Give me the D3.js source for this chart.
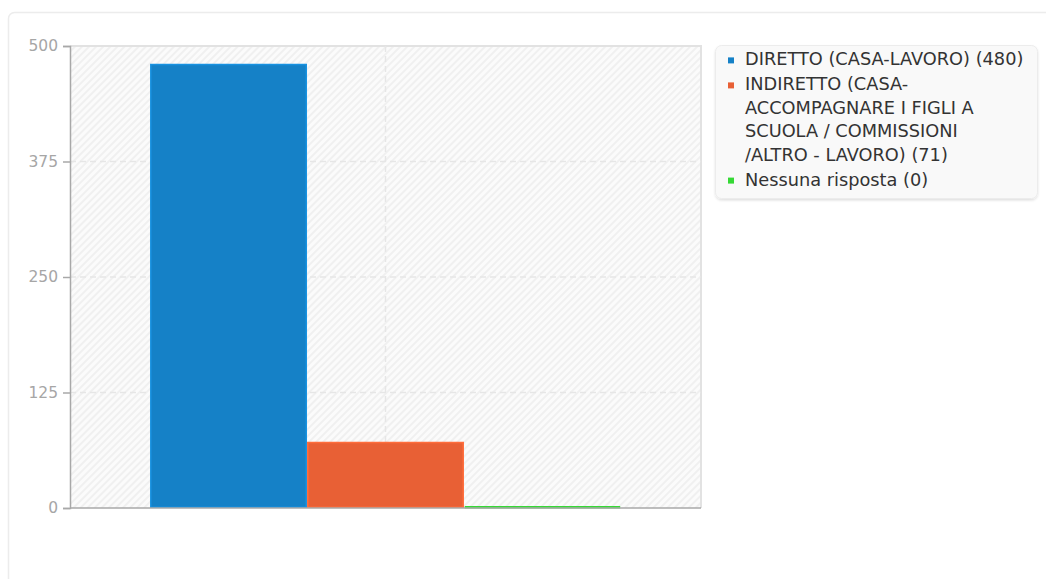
<!DOCTYPE html>
<html>
<head>
<meta charset="utf-8">
<script src="https://cdn.jsdelivr.net/npm/d3@7"></script>
<style>
  html, body { margin: 0; padding: 0; background: #ffffff; }
  svg { display: block; font-family: "DejaVu Sans", sans-serif; }
</style>
</head>
<body>
<svg id="chart" width="1046" height="579"></svg>
<script>
// Answers to the commute question and how many respondents gave each
const seriesNames = [
  "DIRETTO (CASA-LAVORO)",
  "INDIRETTO (CASA-ACCOMPAGNARE I FIGLI A SCUOLA / COMMISSIONI /ALTRO - LAVORO)",
  "Nessuna risposta"
];
const seriesValues = [480, 71, 0];
const seriesColors = ["#1581c7", "#e86035", "#35d935"];
const categories = [""];
const yTicks = [0, 125, 250, 375, 500];

const svg = d3.select("#chart");
const plot = { left: 70, right: 701, top: 46, bottom: 508 };

// outer card
svg.append("rect")
  .attr("x", 8.5).attr("y", 12.5)
  .attr("width", 1100).attr("height", 700)
  .attr("rx", 6)
  .attr("fill", "#ffffff")
  .attr("stroke", "#ececec")
  .attr("stroke-width", 1.5);

const defs = svg.append("defs");
const hatch = defs.append("pattern")
  .attr("id", "hatch")
  .attr("patternUnits", "userSpaceOnUse")
  .attr("width", 5).attr("height", 5)
  .attr("patternTransform", "rotate(45)");
hatch.append("rect").attr("width", 5).attr("height", 5).attr("fill", "#fbfbfb");
hatch.append("line")
  .attr("x1", 1).attr("y1", 0).attr("x2", 1).attr("y2", 5)
  .attr("stroke", "#f0f0f0").attr("stroke-width", 2);

const shadow = defs.append("filter").attr("id", "shadow")
  .attr("x", "-5%").attr("y", "-5%").attr("width", "110%").attr("height", "115%");
shadow.append("feDropShadow")
  .attr("dx", 0).attr("dy", 1.5).attr("stdDeviation", 1.2)
  .attr("flood-color", "#000").attr("flood-opacity", 0.12);

// scales
const y = d3.scaleLinear().domain([0, 500]).range([plot.bottom, plot.top]);
const x0 = d3.scaleBand().domain(categories)
  .range([plot.left, plot.right])
  .paddingInner(0).paddingOuter(0.17);
const x1 = d3.scaleBand().domain(seriesNames).range([0, x0.bandwidth()]).padding(0);

// plot background
svg.append("rect")
  .attr("x", plot.left).attr("y", plot.top)
  .attr("width", plot.right - plot.left).attr("height", plot.bottom - plot.top)
  .attr("fill", "url(#hatch)");

// frame on top and right
svg.append("path")
  .attr("d", `M${plot.left},${plot.top}H${plot.right}V${plot.bottom}`)
  .attr("fill", "none").attr("stroke", "#e2e2e2").attr("stroke-width", 2);

// grid lines
svg.append("g").selectAll("line")
  .data(yTicks.filter(t => t > 0 && t < 500))
  .join("line")
  .attr("x1", plot.left).attr("x2", plot.right)
  .attr("y1", d => y(d)).attr("y2", d => y(d))
  .attr("stroke", "#e6e6e6").attr("stroke-width", 1.5)
  .attr("stroke-dasharray", "6,4");

svg.append("g").selectAll("line")
  .data(categories)
  .join("line")
  .attr("x1", d => x0(d) + x0.bandwidth() / 2).attr("x2", d => x0(d) + x0.bandwidth() / 2)
  .attr("y1", plot.top).attr("y2", plot.bottom)
  .attr("stroke", "#e6e6e6").attr("stroke-width", 1.5)
  .attr("stroke-dasharray", "6,4");

// bars
const rows = seriesNames.map((name, i) => ({ name, value: seriesValues[i], color: seriesColors[i], cat: categories[0] }));
svg.append("g").selectAll("path")
  .data(rows)
  .join("path")
  .attr("d", d => {
    const xa = x0(d.cat) + x1(d.name) + 0.75;
    const xb = xa + x1.bandwidth() - 1.5;
    const ya = y(d.value);
    const yb = y(0) - 0.75;
    return `M${xa},${yb}H${xb}V${Math.min(ya, yb)}H${xa}Z`;
  })
  .attr("fill", d => d.color)
  .attr("stroke", d => d.value === 0 ? d.color : d3.color(d.color).brighter(0.35))
  .attr("stroke-width", d => d.value === 0 ? 2.5 : 1.5);

// y axis
const yAxis = svg.append("g")
  .attr("transform", `translate(${plot.left},0)`)
  .call(d3.axisLeft(y).tickValues(yTicks).tickSize(7).tickPadding(5));
yAxis.select(".domain").attr("stroke", "#a8a8a8").attr("stroke-width", 1.5);
yAxis.selectAll(".tick line").attr("stroke", "#a8a8a8").attr("stroke-width", 1.5);
yAxis.selectAll(".tick text")
  .attr("fill", "#a6a6a6")
  .style("font-family", "DejaVu Sans")
  .style("font-size", "15.5px");

// x axis line
svg.append("line")
  .attr("x1", plot.left).attr("x2", plot.right)
  .attr("y1", plot.bottom).attr("y2", plot.bottom)
  .attr("stroke", "#a8a8a8").attr("stroke-width", 1.5);

// legend
const legend = { x: 715, y: 45, w: 322, h: 153 };
svg.append("rect")
  .attr("x", legend.x + 0.5).attr("y", legend.y + 0.5)
  .attr("width", legend.w).attr("height", legend.h)
  .attr("rx", 6)
  .attr("fill", "#f9f9f9")
  .attr("stroke", "#ececec")
  .attr("filter", "url(#shadow)");

const fontSize = 17.75;
const lineH = 23.4;
const itemGap = 1.6;
const maxW = 279;
const textX = 745;
let baseline = 65.4;

const lg = svg.append("g").style("font-size", fontSize + "px").attr("fill", "#333333");

function wrapLabel(label) {
  const tokens = label.match(/[^\s-]*(?:-|\s+|$)/g).filter(t => t.length);
  const probe = lg.append("text").attr("x", -1000).attr("y", -1000);
  const lines = [];
  let cur = "";
  tokens.forEach(tok => {
    const test = cur + tok;
    probe.text(test.trimEnd());
    if (cur && probe.node().getComputedTextLength() > maxW) {
      lines.push(cur.trimEnd());
      cur = tok;
    } else {
      cur = test;
    }
  });
  if (cur) lines.push(cur.trimEnd());
  probe.remove();
  return lines;
}

rows.forEach(d => {
  const lines = wrapLabel(`${d.name} (${d.value})`);
  lg.append("rect")
    .attr("x", 728).attr("y", baseline - 8)
    .attr("width", 6).attr("height", 6)
    .attr("fill", d.color);
  const t = lg.append("text").attr("x", textX).attr("y", baseline);
  lines.forEach((ln, i) => {
    t.append("tspan").attr("x", textX).attr("y", baseline + i * lineH).text(ln);
  });
  baseline += lines.length * lineH + itemGap;
});
</script>
</body>
</html>
